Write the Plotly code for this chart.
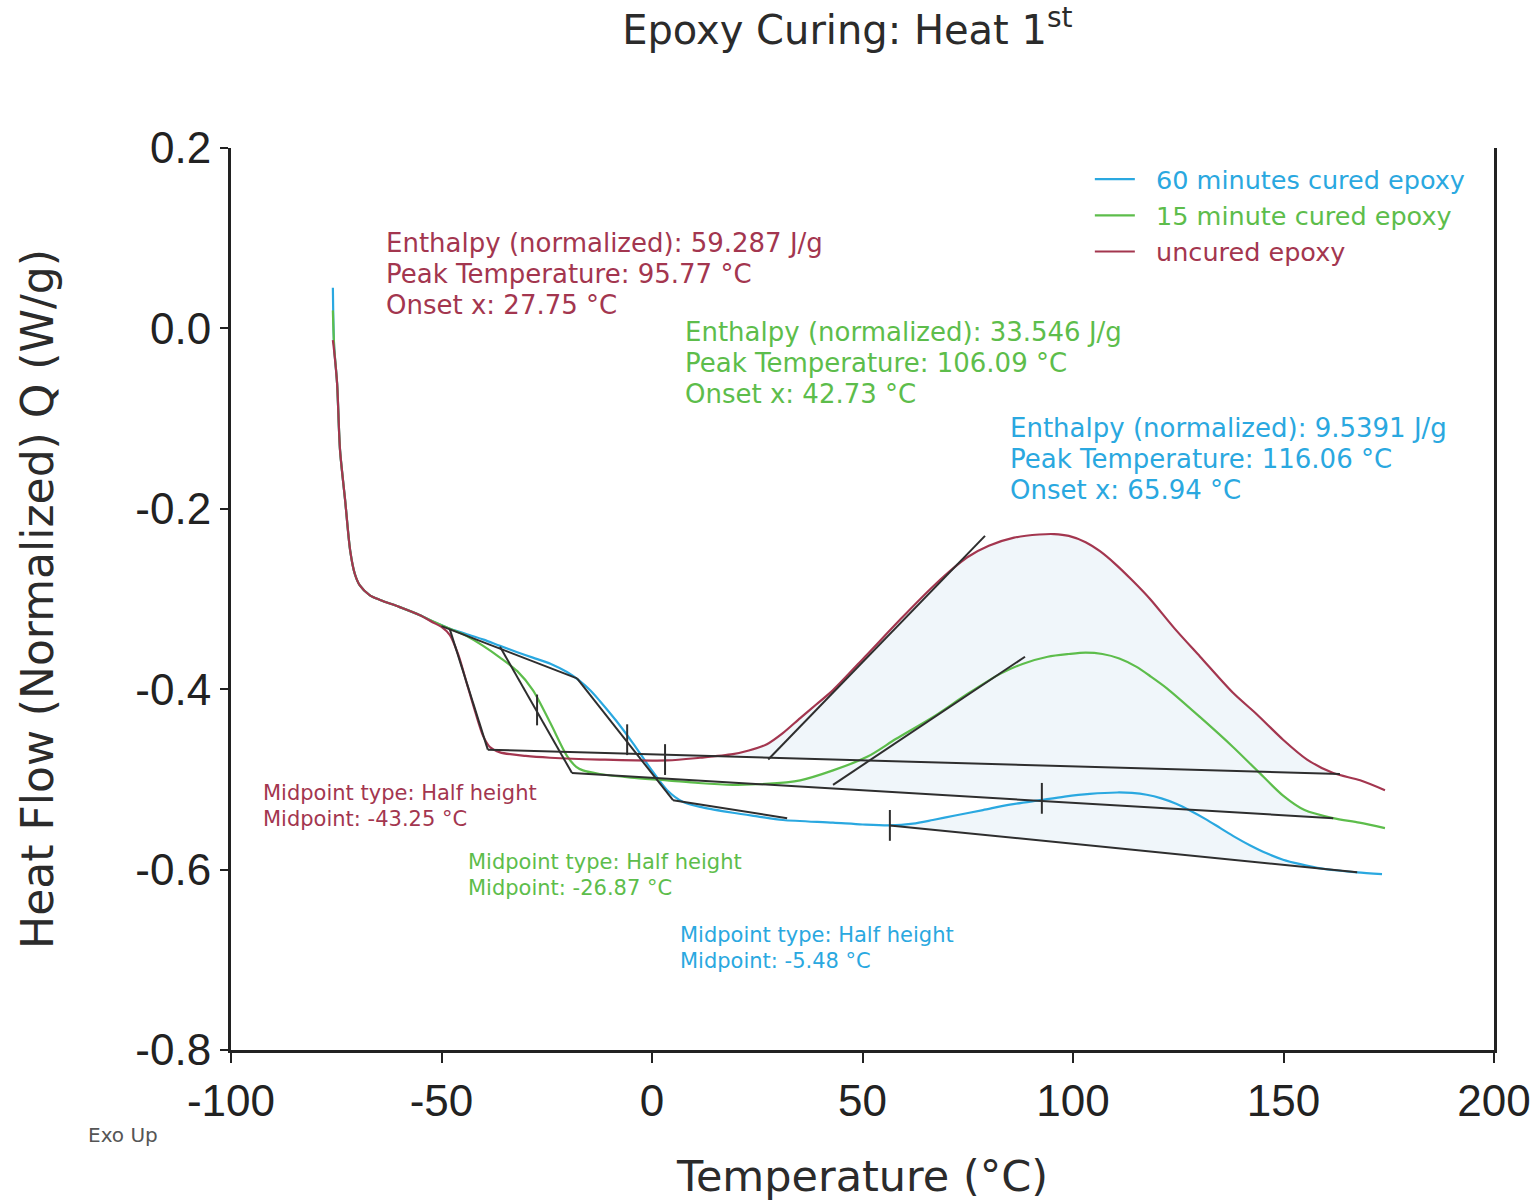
import numpy as np
import plotly.graph_objects as go

# ---------------- data ----------------
TEMP_60 = [-75.8, -75.5, -74.8, -74.1, -72.9, -71.7, -70.6, -69.4, -67.0, -64.6, -59.9, -55.1, -52.0,
           -48.0, -44.0, -40.0, -36.1, -32.0, -28.3, -24.0, -20.2, -17.1, -14.5, -12.4, -8.5, -4.5,
           -0.5, 3.6, 7.4, 12.0, 19.2, 25.0, 31.1, 43.0, 50.0, 56.5, 62.0, 66.7, 72.0, 78.6, 85.0,
           92.2, 98.0, 104.0, 110.5, 114.0, 117.5, 121.0, 124.5, 128.0, 131.5, 135.0, 138.5, 142.0,
           146.0, 149.9, 154.0, 158.0, 163.0, 167.5, 173.4]
HF_60 = [0.045, -0.020, -0.061, -0.135, -0.190, -0.246, -0.272, -0.285, -0.296, -0.301, -0.309, -0.318, -0.325,
         -0.333, -0.339, -0.345, -0.352, -0.359, -0.365, -0.372, -0.381, -0.391, -0.402, -0.413, -0.435, -0.460,
         -0.487, -0.512, -0.525, -0.531, -0.537, -0.541, -0.545, -0.548, -0.550, -0.551, -0.549, -0.545, -0.540,
         -0.534, -0.528, -0.523, -0.519, -0.516, -0.5145, -0.515, -0.517, -0.521, -0.527, -0.535, -0.544, -0.554,
         -0.564, -0.573, -0.582, -0.589, -0.594, -0.598, -0.601, -0.603, -0.605]

TEMP_15 = [-75.8, -75.5, -74.8, -74.1, -72.9, -71.7, -70.6, -69.4, -67.0, -64.6, -59.9, -55.1, -52.0,
           -50.0, -48.0, -44.0, -40.1, -36.1, -32.0, -28.3, -24.2, -20.2, -18.0, -16.4, -12.4, -5.0, 3.6,
           11.0, 19.2, 27.0, 35.2, 43.0, 51.1, 58.0, 66.7, 75.0, 82.7, 88.0, 94.0, 99.0, 103.0, 107.0,
           111.0, 115.0, 118.5, 122.3, 130.2, 138.0, 143.7, 149.9, 155.0, 161.8, 168.0, 174.1]
HF_15 = [0.020, -0.020, -0.061, -0.135, -0.190, -0.246, -0.272, -0.285, -0.296, -0.301, -0.309, -0.318, -0.325,
         -0.329, -0.333, -0.341, -0.352, -0.365, -0.380, -0.401, -0.437, -0.474, -0.486, -0.490, -0.494, -0.498,
         -0.501, -0.504, -0.506, -0.505, -0.501, -0.490, -0.475, -0.455, -0.431, -0.405, -0.383, -0.372, -0.364,
         -0.361, -0.3595, -0.361, -0.366, -0.375, -0.386, -0.399, -0.431, -0.464, -0.490, -0.518, -0.534, -0.543,
         -0.548, -0.554]

TEMP_UN = [-75.8, -75.5, -74.8, -74.1, -72.9, -71.7, -70.6, -69.4, -67.0, -64.6, -59.9, -55.1, -52.0,
           -50.0, -48.0, -46.0, -43.9, -42.0, -40.1, -38.5, -36.1, -30.0, -24.2, -12.4, 3.6, 11.4, 19.2,
           23.0, 27.3, 31.0, 35.2, 39.0, 43.0, 51.0, 58.9, 67.0, 74.8, 80.0, 86.0, 92.0, 95.5, 99.0, 103.0,
           106.4, 110.0, 114.0, 118.3, 124.0, 130.2, 138.0, 143.7, 149.9, 155.6, 161.8, 168.2, 174.1]
HF_UN = [-0.013, -0.025, -0.061, -0.135, -0.190, -0.246, -0.272, -0.285, -0.296, -0.301, -0.309, -0.318, -0.326,
         -0.331, -0.340, -0.362, -0.395, -0.425, -0.452, -0.464, -0.470, -0.474, -0.476, -0.478, -0.479, -0.476,
         -0.472, -0.468, -0.461, -0.449, -0.432, -0.417, -0.401, -0.362, -0.323, -0.285, -0.254, -0.241, -0.232,
         -0.2285, -0.228, -0.230, -0.237, -0.247, -0.261, -0.279, -0.300, -0.332, -0.364, -0.404, -0.428, -0.456,
         -0.478, -0.493, -0.501, -0.512]

SERIES_NAMES = ["60 minutes cured epoxy", "15 minute cured epoxy", "uncured epoxy"]
COLORS = ["#2AA8E0", "#5DBD4B", "#A3364F"]

# analysis constructions (tangent / baseline segments): x pairs and y pairs
TAN_X = [[-50.0, -17.8],   # glassy tangent
         [-48.0, -39.0],   # uncured step tangent
         [-39.0, 163.4],   # uncured baseline
         [27.6, 79.1],     # uncured onset tangent
         [-36.1, -19.0],   # 15 min step tangent
         [-19.0, 161.8],   # 15 min baseline
         [43.0, 88.6],     # 15 min onset tangent
         [-17.8, 5.0],     # 60 min step tangent
         [5.0, 32.1],      # 60 min rubbery tangent
         [56.5, 167.5]]    # 60 min baseline
TAN_Y = [[-0.330, -0.388],
         [-0.334, -0.467],
         [-0.467, -0.494],
         [-0.478, -0.230],
         [-0.353, -0.493],
         [-0.493, -0.543],
         [-0.506, -0.364],
         [-0.388, -0.523],
         [-0.523, -0.543],
         [-0.551, -0.603]]

MARK_X = [-27.3, -5.9, 3.1, 56.5, 92.6]
MARK_Y = [-0.423, -0.456, -0.478, -0.551, -0.521]

# integration areas: (curve index, baseline index, start, end)
AREAS = [(2, 2, 3.1, 163.4), (1, 5, 25.0, 161.8), (0, 9, 56.5, 167.5)]

PEAK_TEXT = [["Enthalpy (normalized): 59.287 J/g", "Peak Temperature: 95.77 °C", "Onset x: 27.75 °C"],
             ["Enthalpy (normalized): 33.546 J/g", "Peak Temperature: 106.09 °C", "Onset x: 42.73 °C"],
             ["Enthalpy (normalized): 9.5391 J/g", "Peak Temperature: 116.06 °C", "Onset x: 65.94 °C"]]
PEAK_POS = [(-63.7, 0.095), (7.3, -0.004), (84.6, -0.110)]
PEAK_COL = [COLORS[2], COLORS[1], COLORS[0]]

MID_TEXT = [["Midpoint type: Half height", "Midpoint: -43.25 °C"],
            ["Midpoint type: Half height", "Midpoint: -26.87 °C"],
            ["Midpoint type: Half height", "Midpoint: -5.48 °C"]]
MID_POS = [(-92.8, -0.515), (-44.3, -0.592), (6.2, -0.673)]
MID_COL = [COLORS[2], COLORS[1], COLORS[0]]

X_TICKS = [-100, -50, 0, 50, 100, 150, 200]
Y_TICKS = [-0.8, -0.6, -0.4, -0.2, 0.0, 0.2]

TEXT_FONT = "DejaVu Sans, Noto Sans, sans-serif"
NUM_FONT = "Liberation Sans, Arial, sans-serif"

curves = [(TEMP_60, HF_60), (TEMP_15, HF_15), (TEMP_UN, HF_UN)]

fig = go.Figure()

# shaded integration areas
for ci, bi, t0, t1 in AREAS:
    tx, hy = np.array(curves[ci][0]), np.array(curves[ci][1])
    inner = tx[(tx > t0) & (tx < t1)]
    xs_top = np.concatenate([[t0], inner, [t1]])
    ys_top = np.interp(xs_top, tx, hy)
    bx, by = TAN_X[bi], TAN_Y[bi]
    ys_bot = np.interp(xs_top[::-1], bx, by)
    fig.add_trace(go.Scatter(
        x=np.concatenate([xs_top, xs_top[::-1]]),
        y=np.concatenate([ys_top, ys_bot]),
        fill="toself", fillcolor="#F0F6FA", line=dict(width=0),
        mode="lines", showlegend=False, hoverinfo="skip"))

# curves
for (tx, hy), nm, col in zip(curves, SERIES_NAMES, COLORS):
    fig.add_trace(go.Scatter(
        x=tx, y=hy, mode="lines",
        name=f"<span style='color:{col}'>\u00a0\u00a0{nm}</span>",
        line=dict(color=col, width=2.2, shape="spline", smoothing=0.8)))

# analysis lines
for sx, sy in zip(TAN_X, TAN_Y):
    fig.add_trace(go.Scatter(x=sx, y=sy, mode="lines",
                             line=dict(color="#2E2E2E", width=2),
                             showlegend=False, hoverinfo="skip"))

fig.add_trace(go.Scatter(x=MARK_X, y=MARK_Y, mode="markers",
                         marker=dict(symbol="line-ns", size=22,
                                     line=dict(color="#2E2E2E", width=2)),
                         showlegend=False, hoverinfo="skip"))

annotations = []
for lines, (ax, ay), col in zip(PEAK_TEXT, PEAK_POS, PEAK_COL):
    for i, ln in enumerate(lines):
        annotations.append(dict(x=ax, y=ay - i * 0.0344, xref="x", yref="y", text=ln,
                                showarrow=False, xanchor="left", yanchor="middle",
                                font=dict(family=TEXT_FONT, size=26, color=col)))
for lines, (ax, ay), col in zip(MID_TEXT, MID_POS, MID_COL):
    for i, ln in enumerate(lines):
        annotations.append(dict(x=ax, y=ay - i * 0.0288, xref="x", yref="y", text=ln,
                                showarrow=False, xanchor="left", yanchor="middle",
                                font=dict(family=TEXT_FONT, size=21, color=col)))
annotations.append(dict(x=-0.115, y=-0.094, xref="paper", yref="paper", text="Exo Up",
                        showarrow=False, xanchor="left", yanchor="middle",
                        font=dict(family=TEXT_FONT, size=20, color="#555555")))

fig.update_layout(
    width=1539, height=1201,
    margin=dict(l=231, r=45, t=148, b=151, autoexpand=False),
    paper_bgcolor="white", plot_bgcolor="white",
    title=dict(text="Epoxy Curing: Heat 1<sup>st</sup>", x=0.488, xref="paper",
               y=1 - 30 / 1201, yref="container", xanchor="center", yanchor="middle",
               font=dict(family=TEXT_FONT, size=40, color="#2B2B2B")),
    legend=dict(x=0.680, y=0.991, xanchor="left", yanchor="top",
                bgcolor="rgba(0,0,0,0)", font=dict(family=TEXT_FONT, size=25.5),
                itemwidth=40, tracegroupgap=0),
    annotations=annotations,
    showlegend=True,
)
fig.update_xaxes(range=[-100, 200], tickvals=X_TICKS, ticktext=[str(v) for v in X_TICKS],
                 ticks="outside", ticklen=10, tickwidth=2, tickcolor="#222",
                 showline=True, linewidth=3, linecolor="#222", automargin=False,
                 showgrid=False, zeroline=False,
                 tickfont=dict(family=NUM_FONT, size=44, color="#222"),
                 title=dict(text="Temperature (°C)", standoff=40,
                            font=dict(family=TEXT_FONT, size=43, color="#2B2B2B")))
fig.update_yaxes(range=[-0.8, 0.2], tickvals=Y_TICKS, ticktext=[f"{v:.1f}" for v in Y_TICKS],
                 ticks="outside", ticklen=8, tickwidth=2, tickcolor="#222",
                 showline=True, linewidth=3, linecolor="#222", mirror=True, automargin=False,
                 showgrid=False, zeroline=False,
                 tickfont=dict(family=NUM_FONT, size=44, color="#222"),
                 title=dict(text="Heat Flow (Normalized) Q (W/g)", standoff=68,
                            font=dict(family=TEXT_FONT, size=44, color="#2B2B2B")))

fig.write_html("out.html")
